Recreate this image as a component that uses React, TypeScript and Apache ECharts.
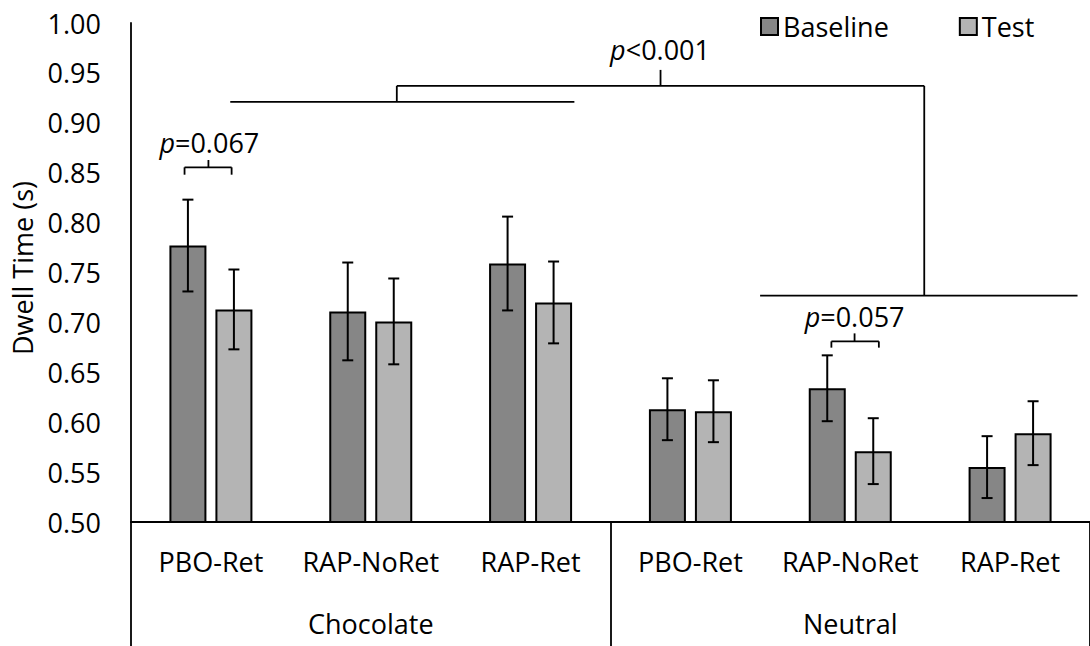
import React, { useEffect, useRef } from "react";
import * as echarts from "echarts";

const FONT = "'Open Sans', sans-serif";
const FS = 27;

const groups = ["Chocolate", "Neutral"];
const conditions = ["PBO-Ret", "RAP-NoRet", "RAP-Ret"];
const categories = groups.flatMap((g) => conditions.map((c) => `${g}|${c}`));

const baseline = [0.777, 0.711, 0.759, 0.613, 0.634, 0.555];
const baselineErr = [0.046, 0.049, 0.047, 0.031, 0.033, 0.031];
const test = [0.713, 0.701, 0.72, 0.611, 0.571, 0.589];
const testErr = [0.04, 0.043, 0.041, 0.031, 0.033, 0.032];

const yMin = 0.5;
const yMax = 1.0;
const yStep = 0.05;

// bracket segments in (category position, value) units: [k1, v1, k2, v2]
const bracketSegments: number[][] = [
  [-0.165, 0.848, -0.165, 0.8554],
  [-0.165, 0.8554, 0.1295, 0.8554],
  [0.1295, 0.8554, 0.1295, 0.848],
  [-0.0156, 0.8554, -0.0156, 0.8627],
  [0.121, 0.921, 2.274, 0.921],
  [1.163, 0.921, 1.163, 0.937],
  [1.163, 0.937, 4.463, 0.937],
  [2.813, 0.937, 2.813, 0.953],
  [4.463, 0.937, 4.463, 0.7268],
  [3.436, 0.7268, 5.422, 0.7268],
  [3.882, 0.6747, 3.882, 0.681],
  [3.882, 0.681, 4.179, 0.681],
  [4.179, 0.681, 4.179, 0.6747],
  [4.027, 0.681, 4.027, 0.689],
];

const pLabels = [
  { k: -0.01, v: 0.8798, op: "=", val: "0.067" },
  { k: 2.81, v: 0.973, op: "<", val: "0.001" },
  { k: 4.027, v: 0.7064, op: "=", val: "0.057" },
];

const BAR_W = 37;
const BAR_GAP = 9;
const CAP = 11;

function errorSeries(name: string, vals: number[], errs: number[], side: number) {
  return {
    type: "custom",
    name: name + "-err",
    z: 5,
    data: vals.map((v, i) => [i, v - errs[i], v + errs[i]]),
    renderItem: (params: any, api: any) => {
      const idx = api.value(0);
      const top = api.coord([idx, api.value(2)]);
      const bot = api.coord([idx, api.value(1)]);
      const x = top[0] + side * (BAR_W + BAR_GAP) / 2;
      const st = { stroke: "#000", lineWidth: 2 };
      return {
        type: "group",
        children: [
          { type: "line", shape: { x1: x, y1: top[1], x2: x, y2: bot[1] }, style: st },
          { type: "line", shape: { x1: x - CAP / 2, y1: top[1], x2: x + CAP / 2, y2: top[1] }, style: st },
          { type: "line", shape: { x1: x - CAP / 2, y1: bot[1], x2: x + CAP / 2, y2: bot[1] }, style: st },
        ],
      };
    },
  };
}

export default function App() {
  const ref = useRef<HTMLDivElement>(null);
  useEffect(() => {
    if (!ref.current) return;
    const chart = echarts.init(ref.current, undefined, { renderer: "svg" });
    const barStyle = (color: string) => ({ color, borderColor: "#000", borderWidth: 2 });
    chart.setOption({
      animation: false,
      legend: {
        data: ["Baseline", "Test"],
        left: 755,
        top: 8,
        icon: "rect",
        itemWidth: 17,
        itemHeight: 17,
        itemGap: 70,
        textStyle: { fontSize: FS, fontFamily: FONT, color: "#000" },
      },
      grid: { left: 131, top: 23, width: 964, height: 499 },
      xAxis: [
        {
          type: "category",
          data: categories,
          axisLine: { show: true, lineStyle: { color: "#000", width: 1.8 } },
          axisTick: { show: false },
          axisLabel: {
            formatter: (v: string) => v.split("|")[1],
            fontSize: FS,
            fontFamily: FONT,
            color: "#000",
            margin: 26,
            interval: 0,
          },
        },
        {
          type: "category",
          data: groups,
          position: "bottom",
          axisLine: { show: false },
          axisTick: { show: true, length: 124, lineStyle: { color: "#000", width: 1.8 } },
          axisLabel: { fontSize: FS, fontFamily: FONT, color: "#000", margin: 88, interval: 0 },
        },
      ],
      yAxis: {
        type: "value",
        min: yMin,
        max: yMax,
        interval: yStep,
        axisLine: { show: true, lineStyle: { color: "#000", width: 1.8 } },
        axisTick: { show: false },
        splitLine: { show: false },
        axisLabel: {
          formatter: (v: number) => v.toFixed(2),
          fontSize: FS,
          fontFamily: FONT,
          color: "#000",
          margin: 30,
        },
      },
      graphic: [
        {
          type: "text",
          x: 22,
          y: 268,
          rotation: Math.PI / 2,
          style: {
            text: "Dwell Time (s)",
            fontSize: 27,
            fontFamily: FONT,
            fill: "#000",
            align: "center",
            verticalAlign: "middle",
          },
        },
      ],
      series: [
        {
          type: "bar",
          name: "Baseline",
          data: baseline,
          barWidth: BAR_W,
          barGap: `${(BAR_GAP / BAR_W) * 100}%`,
          itemStyle: barStyle("#868686"),
        },
        {
          type: "bar",
          name: "Test",
          data: test,
          barWidth: BAR_W,
          itemStyle: barStyle("#b4b4b4"),
        },
        errorSeries("Baseline", baseline, baselineErr, -1),
        errorSeries("Test", test, testErr, 1),
        {
          type: "custom",
          name: "annotations",
          z: 6,
          data: [[0, yMin]],
          renderItem: (params: any, api: any) => {
            const c0 = api.coord([0, yMin])[0];
            const band = api.coord([1, yMin])[0] - c0;
            const px = (k: number, v: number) => [c0 + k * band, api.coord([0, v])[1]];
            const children: any[] = bracketSegments.map((s) => {
              const a = px(s[0], s[1]);
              const b = px(s[2], s[3]);
              return {
                type: "line",
                shape: { x1: a[0], y1: a[1], x2: b[0], y2: b[1] },
                style: { stroke: "#000", lineWidth: 1.8 },
              };
            });
            pLabels.forEach((p) => {
              const pt = px(p.k, p.v);
              children.push({
                type: "text",
                x: pt[0],
                y: pt[1],
                style: {
                  text: `{i|p}{n|${p.op}${p.val}}`,
                  rich: {
                    i: { fontStyle: "italic", fontSize: FS, fontFamily: FONT, fill: "#000" },
                    n: { fontSize: FS, fontFamily: FONT, fill: "#000" },
                  },
                  align: "center",
                  verticalAlign: "middle",
                },
              });
            });
            return { type: "group", children };
          },
        },
      ],
    });
    return () => chart.dispose();
  }, []);
  return (
    <div
      ref={ref}
      style={{ position: "absolute", left: 0, top: 0, width: 1090, height: 646, background: "#fff" }}
    />
  );
}
